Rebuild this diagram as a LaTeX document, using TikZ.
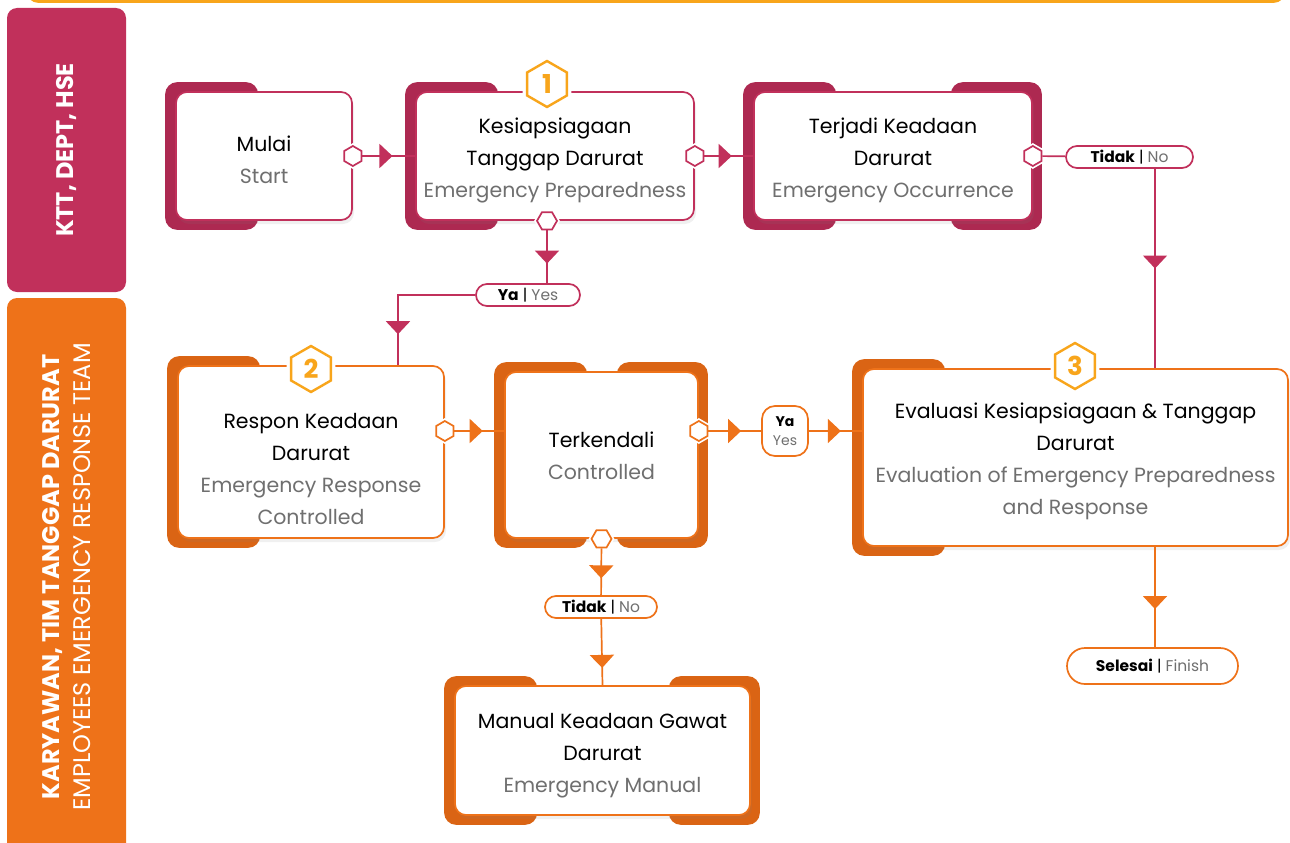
\documentclass[tikz,border=0pt]{standalone}
\usepackage{fontspec}
\setmainfont{Poppins}
\usetikzlibrary{shapes.geometric}
\usetikzlibrary{arrows.meta}
\usetikzlibrary{decorations.markings}
\usetikzlibrary{backgrounds}
\usetikzlibrary{shadows}

\definecolor{crim}{HTML}{C1305B}
\definecolor{crimdark}{HTML}{AD2951}
\definecolor{orng}{HTML}{EE7219}
\definecolor{orngdark}{HTML}{DA6414}
\definecolor{amber}{HTML}{F8A51B}
\definecolor{engl}{HTML}{6F6F6F}

% coloured tabs behind a step box
\newcommand\tabwest[2]{\fill[#2, rounded corners=12pt] ([xshift=-10pt,yshift=9pt]#1.north west) rectangle ([xshift=83pt,yshift=-9pt]#1.south west);}
\newcommand\tabeast[2]{\fill[#2, rounded corners=12pt] ([xshift=-82pt,yshift=9pt]#1.north east) rectangle ([xshift=9pt,yshift=-9pt]#1.south east);}
\newcommand\en[1]{{\color{engl}#1}}
\newcommand\lift[1]{\rule{0pt}{#1}}

\begin{document}
\begin{tikzpicture}[x=1pt, y=-1pt,
    stepbox/.style={draw=#1, fill=white, line width=1.7pt, rounded corners=11pt, align=center, inner sep=0pt, font=\fontsize{20.5}{32}\selectfont,
      drop shadow={opacity=0.12, shadow xshift=2pt, shadow yshift=-4pt}},
    port/.style={regular polygon, regular polygon sides=6, draw=#1, fill=white, line width=1.7pt, minimum size=20pt, inner sep=0pt, preaction={draw=white, line width=5pt}},
    eport/.style={port=#1, shape border rotate=90},
    badge/.style={regular polygon, regular polygon sides=6, shape border rotate=90, draw=amber, fill=white, line width=2.4pt, minimum size=46pt, inner sep=0pt, text=amber, font=\bfseries\fontsize{26}{26}\selectfont, preaction={draw=white, line width=9pt}},
    pill/.style={draw=#1, fill=white, line width=1.7pt, rounded corners=11pt, minimum height=22pt, inner sep=0pt, font=\fontsize{15.5}{15}\selectfont},
    flow/.style={line width=1.7pt, postaction={decorate}, decoration={markings, mark=at position #1 with {\arrow{Triangle[width=24pt,length=13pt]}}}},
    flow/.default=0.6,
    lane/.style={fill=#1, rounded corners=10pt, rotate=90, text=white, align=center, inner sep=0pt}]
  \useasboundingbox (0,0) rectangle (1290,843);
  \clip (0,0) rectangle (1290,843);

  % frame and swimlanes
  \draw[amber, line width=3pt, rounded corners=12pt] (27,-40) rectangle (1285,1.5);
  \node[lane=crim, minimum width=284pt, minimum height=119pt, font=\bfseries\fontsize{24}{26}\selectfont] (hse) at (66.5,150) {KTT, DEPT, HSE};
  \node[lane=orng, minimum width=558pt, minimum height=119pt, font=\fontsize{24}{31}\selectfont] (team) at (66.5,577) {\textbf{KARYAWAN, TIM TANGGAP DARURAT}\\EMPLOYEES EMERGENCY RESPONSE TEAM};

  % steps
  \node[stepbox=crim, minimum width=176pt, minimum height=128pt] (mulai) at (264,156) {\lift{23pt}Mulai\\\en{Start}};
  \node[stepbox=crim, minimum width=278pt, minimum height=128pt] (siaga) at (555,156) {\lift{25pt}Kesiapsiagaan\\Tanggap Darurat\\\en{Emergency Preparedness}};
  \node[stepbox=crim, minimum width=278pt, minimum height=128pt] (terjadi) at (893,156) {\lift{25pt}Terjadi Keadaan\\Darurat\\\en{Emergency Occurrence}};
  \node[stepbox=orng, minimum width=266pt, minimum height=172pt] (respon) at (311,452) {\lift{50pt}Respon Keadaan\\Darurat\\\en{Emergency Response}\\\en{Controlled}};
  \node[stepbox=orng, minimum width=193pt, minimum height=166pt] (kendali) at (601.5,455) {\lift{18pt}Terkendali\\\en{Controlled}};
  \node[stepbox=orng, minimum width=425pt, minimum height=177pt] (evaluasi) at (1075.5,457.5) {\lift{24pt}Evaluasi Kesiapsiagaan \& Tanggap\\Darurat\\\en{Evaluation of Emergency Preparedness}\\\en{and Response}};
  \node[stepbox=orng, minimum width=295pt, minimum height=129pt] (manual) at (602.5,750.5) {\lift{25pt}Manual Keadaan Gawat\\Darurat\\\en{Emergency Manual}};

  \begin{scope}[on background layer]
    \tabwest{mulai}{crimdark}
    \tabwest{siaga}{crimdark}
    \tabwest{terjadi}{crimdark}
    \tabeast{terjadi}{crimdark}
    \tabwest{respon}{orngdark}
    \tabwest{kendali}{orngdark}
    \tabeast{kendali}{orngdark}
    \tabwest{evaluasi}{orngdark}
    \tabwest{manual}{orngdark}
    \tabeast{manual}{orngdark}
  \end{scope}

  \node[badge] (b1) at (547,84) {1};
  \node[badge] (b2) at (311,369) {2};
  \node[badge] (b3) at (1075,366) {3};

  % ports
  \coordinate (midrow) at (0,431);
  \node[eport=crim] (p1) at (mulai.east) {};
  \node[eport=crim] (p2) at (siaga.east) {};
  \node[port=crim] (p3) at ([xshift=-8pt]siaga.south) {};
  \node[eport=crim] (p4) at (terjadi.east) {};
  \node[eport=orng] (p5) at (respon.east |- midrow) {};
  \node[eport=orng] (p6) at (kendali.east |- midrow) {};
  \node[port=orng] (p7) at (kendali.south) {};

  % answers
  \node[pill=crim, minimum width=127pt] (no1) at (1129.5,157) {\textbf{Tidak} | \en{No}};
  \node[pill=crim, minimum width=104pt] (yes1) at (528,295) {\textbf{Ya} | \en{Yes}};
  \node[pill=orng, minimum width=46pt, minimum height=50pt, rounded corners=13pt, align=center, font=\fontsize{14}{19}\selectfont] (yes2) at (785,431) {\textbf{Ya}\\\en{Yes}};
  \node[pill=orng, minimum width=112pt] (no2) at (601,607) {\textbf{Tidak} | \en{No}};
  \node[pill=orng, minimum width=171pt, minimum height=36pt, rounded corners=18pt, font=\fontsize{15.5}{16}\selectfont] (selesai) at (1152.5,666) {\textbf{Selesai} | \en{Finish}};

  % connectors
  \coordinate (down1) at (1155,0);
  \coordinate (turn) at (398,295);
  \draw[flow=0.57, crim] (p1) -- (siaga.west);
  \draw[flow=0.56, crim] (p2) -- (terjadi.west);
  \draw[crim, line width=1.7pt] (p4) -- (no1);
  \draw[flow=0.5, crim] (no1.south -| down1) -- (evaluasi.north -| down1);
  \draw[flow=0.63, crim] (p3) -- (p3 |- yes1.north);
  \draw[flow=0.79, crim] (yes1.west) -| (respon.north -| turn);
  \draw[flow=0.57, orng] (p5) -- (kendali.west |- p5);
  \draw[flow=0.62, orng] (p6) -- (yes2);
  \draw[flow=0.6, orng] (yes2) -- (evaluasi.west |- yes2);
  \draw[flow=0.64, orng] (p7) -- (no2);
  \draw[flow=0.74, orng] (no2) -- (manual.north);
  \draw[flow=0.62, orng] (evaluasi.south -| down1) -- (selesai.north -| down1);
\end{tikzpicture}
\end{document}
